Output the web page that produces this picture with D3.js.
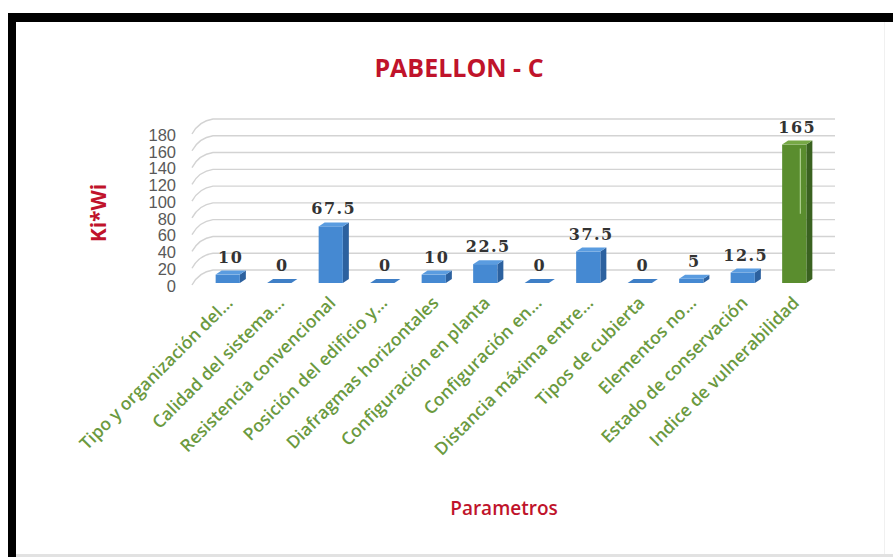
<!DOCTYPE html>
<html>
<head>
<meta charset="utf-8">
<script src="https://cdn.jsdelivr.net/npm/d3@7/dist/d3.min.js"></script>
<style>
  html, body { margin: 0; padding: 0; background: #fff; }
  svg { display: block; }
</style>
</head>
<body>
<svg id="chart" width="893" height="557"></svg>
<script>
// Parameter categories and their Ki*Wi scores
const categories = [
  "Tipo y organización del…",
  "Calidad del sistema…",
  "Resistencia convencional",
  "Posición del edificio y…",
  "Diafragmas horizontales",
  "Configuración en planta",
  "Configuración en…",
  "Distancia máxima entre…",
  "Tipos de cubierta",
  "Elementos no…",
  "Estado de conservación",
  "Indice de vulnerabilidad"
];
const values = [10, 0, 67.5, 0, 10, 22.5, 0, 37.5, 0, 5, 12.5, 165];
const yTicks = [0, 20, 40, 60, 80, 100, 120, 140, 160, 180];
const totalCategory = "Indice de vulnerabilidad";

const svg = d3.select("#chart");
const W = 893, H = 557;

// Frame
svg.append("rect").attr("x", 0).attr("y", 0).attr("width", W).attr("height", H).attr("fill", "#fff");
svg.append("rect").attr("x", 8).attr("y", 13).attr("width", W - 8).attr("height", 9).attr("fill", "#000");
svg.append("rect").attr("x", 8).attr("y", 13).attr("width", 8).attr("height", H - 13).attr("fill", "#000");
svg.append("rect").attr("x", 16).attr("y", 554).attr("width", W - 16).attr("height", 3).attr("fill", "#e2e2e2");
svg.append("rect").attr("x", 884).attr("y", 22).attr("width", 1).attr("height", 532).attr("fill", "#f0f0f0");

// Scales
const x = d3.scaleBand().domain(categories).range([202, 820]).paddingInner(0.53).paddingOuter(0.265);
const y = d3.scaleLinear().domain([0, 180]).range([283, 132]);

const depthX = 6, depthY = -4;   // 3D offset of bar side/top faces
const wallX = 213, wallY = -13; // back-wall offset of gridlines

// Gridlines on the back wall plus the short side-wall segments
const grid = svg.append("g").attr("class", "grid");
yTicks.forEach(t => {
  const gy = y(t) + wallY;
  grid.append("path")
    .attr("d", `M192,${y(t) + 2} Q199,${gy + 2} ${wallX},${gy} L835,${gy}`)
    .attr("fill", "none").attr("stroke", "#d3d3d3").attr("stroke-width", 1.4);
});

// Y axis (labels only)
const yAxis = svg.append("g")
  .attr("transform", "translate(178,3)")
  .call(d3.axisLeft(y).tickValues(yTicks).tickSize(0).tickPadding(2));
yAxis.select(".domain").remove();
yAxis.selectAll("text")
  .attr("font-family", "'Liberation Sans', Arial, sans-serif")
  .attr("font-size", 16.5)
  .attr("fill", "#595959");

// 3D bars
const bars = svg.append("g").attr("class", "bars");
categories.forEach((c, i) => {
  const v = values[i];
  const x0 = x(c), w = x.bandwidth();
  const yTop = y(v), yBase = y(0);
  const isTotal = c === totalCategory;
  const front = isTotal ? "#5a8d2e" : "#4589d2";
  const side  = isTotal ? "#3a6220" : "#2c619f";
  const top   = isTotal ? "#76a845" : "#5a9ce0";
  const g = bars.append("g");
  // side face
  g.append("path")
    .attr("d", `M${x0 + w},${yBase} L${x0 + w + depthX},${yBase + depthY} L${x0 + w + depthX},${yTop + depthY} L${x0 + w},${yTop} Z`)
    .attr("fill", side);
  // front face
  g.append("rect")
    .attr("x", x0).attr("y", yTop).attr("width", w).attr("height", Math.max(0, yBase - yTop))
    .attr("fill", front);
  // top face
  g.append("path")
    .attr("d", `M${x0},${yTop} L${x0 + depthX},${yTop + depthY} L${x0 + w + depthX},${yTop + depthY} L${x0 + w},${yTop} Z`)
    .attr("fill", v === 0 ? "#3f7fc6" : top);
  if (isTotal) {
    // glossy highlight streak on the total bar
    g.append("line")
      .attr("x1", x0 + w - 6).attr("x2", x0 + w - 6)
      .attr("y1", yTop + 4).attr("y2", yTop + (yBase - yTop) * 0.5)
      .attr("stroke", "#b9d99a").attr("stroke-width", 1.2).attr("opacity", 0.9);
  }
  // value label
  svg.append("text")
    .attr("x", x0 + w / 2 + 3)
    .attr("y", yTop - 12)
    .attr("text-anchor", "middle")
    .attr("font-family", "'DejaVu Serif', serif")
    .attr("font-weight", "bold")
    .attr("font-size", 16)
    .attr("letter-spacing", 1.5)
    .attr("fill", "#333")
    .text(v);
});

// X axis labels, rotated
const xAxis = svg.append("g")
  .attr("transform", "translate(0,300)")
  .call(d3.axisBottom(x).tickSize(0).tickPadding(0));
xAxis.select(".domain").remove();
xAxis.selectAll("text")
  .attr("font-family", "'Open Sans', sans-serif")
  .attr("font-weight", 600)
  .attr("font-size", 17.5)
  .attr("fill", "#6b9a3f")
  .attr("text-anchor", "end")
  .attr("dy", 0)
  .attr("transform", "translate(6,4) rotate(-45)");

// Titles
svg.append("text")
  .attr("x", 459).attr("y", 77)
  .attr("text-anchor", "middle")
  .attr("font-family", "'Open Sans', sans-serif")
  .attr("font-weight", 700)
  .attr("font-size", 25)
  .attr("fill", "#c0132b")
  .text("PABELLON - C");

svg.append("text")
  .attr("transform", "translate(106,213) rotate(-90)")
  .attr("text-anchor", "middle")
  .attr("font-family", "'Open Sans', sans-serif")
  .attr("font-weight", 700)
  .attr("font-size", 21)
  .attr("fill", "#c0132b")
  .text("Ki*Wi");

svg.append("text")
  .attr("x", 504).attr("y", 515)
  .attr("text-anchor", "middle")
  .attr("font-family", "'Open Sans', sans-serif")
  .attr("font-weight", 600)
  .attr("font-size", 19)
  .attr("fill", "#c0132b")
  .text("Parametros");
</script>
</body>
</html>
